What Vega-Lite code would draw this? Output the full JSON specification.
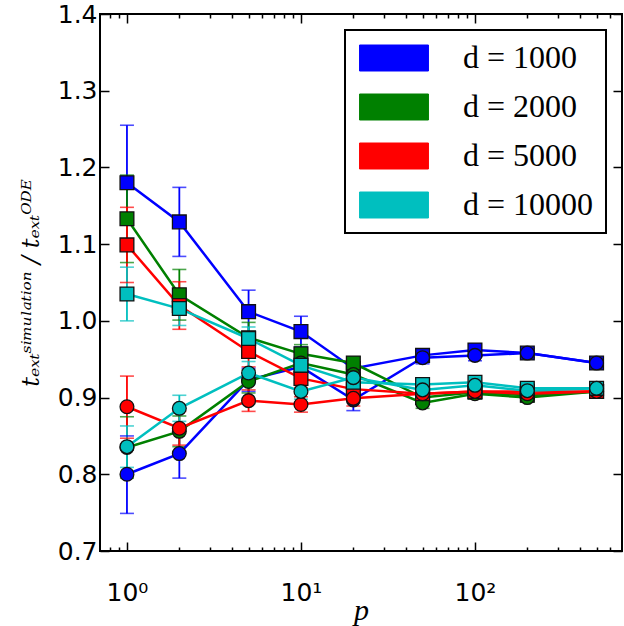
{
  "$schema": "https://vega.github.io/schema/vega-lite/v6.json",
  "width": 522,
  "height": 537,
  "autosize": {"type": "none"},
  "padding": {"left": 100, "top": 14, "right": 2, "bottom": 75},
  "background": "white",
  "config": {
    "view": {"stroke": "black", "strokeWidth": 2},
    "font": "DejaVu Sans"
  },
  "data": {
    "values": [
      {"p": 1, "d": 1000, "k": "square", "v": 1.180, "lo": 1.105, "hi": 1.255},
      {"p": 2, "d": 1000, "k": "square", "v": 1.129, "lo": 1.084, "hi": 1.174},
      {"p": 5, "d": 1000, "k": "square", "v": 1.012, "lo": 0.984, "hi": 1.040},
      {"p": 10, "d": 1000, "k": "square", "v": 0.986, "lo": 0.966, "hi": 1.006},
      {"p": 20, "d": 1000, "k": "square", "v": 0.938, "lo": 0.928, "hi": 0.948},
      {"p": 50, "d": 1000, "k": "square", "v": 0.955, "lo": 0.947, "hi": 0.963},
      {"p": 100, "d": 1000, "k": "square", "v": 0.962, "lo": 0.954, "hi": 0.970},
      {"p": 200, "d": 1000, "k": "square", "v": 0.958, "lo": 0.952, "hi": 0.964},
      {"p": 500, "d": 1000, "k": "square", "v": 0.945, "lo": 0.940, "hi": 0.950},
      {"p": 1, "d": 1000, "k": "circle", "v": 0.800, "lo": 0.749, "hi": 0.850},
      {"p": 2, "d": 1000, "k": "circle", "v": 0.827, "lo": 0.795, "hi": 0.859},
      {"p": 5, "d": 1000, "k": "circle", "v": 0.923, "lo": 0.908, "hi": 0.938},
      {"p": 10, "d": 1000, "k": "circle", "v": 0.940, "lo": 0.928, "hi": 0.952},
      {"p": 20, "d": 1000, "k": "circle", "v": 0.897, "lo": 0.883, "hi": 0.911},
      {"p": 50, "d": 1000, "k": "circle", "v": 0.952, "lo": 0.944, "hi": 0.960},
      {"p": 100, "d": 1000, "k": "circle", "v": 0.955, "lo": 0.948, "hi": 0.962},
      {"p": 200, "d": 1000, "k": "circle", "v": 0.958, "lo": 0.952, "hi": 0.964},
      {"p": 500, "d": 1000, "k": "circle", "v": 0.945, "lo": 0.940, "hi": 0.950},
      {"p": 1, "d": 2000, "k": "square", "v": 1.133, "lo": 1.076, "hi": 1.190},
      {"p": 2, "d": 2000, "k": "square", "v": 1.034, "lo": 1.001, "hi": 1.067},
      {"p": 5, "d": 2000, "k": "square", "v": 0.978, "lo": 0.958, "hi": 0.998},
      {"p": 10, "d": 2000, "k": "square", "v": 0.957, "lo": 0.945, "hi": 0.969},
      {"p": 20, "d": 2000, "k": "square", "v": 0.945, "lo": 0.937, "hi": 0.953},
      {"p": 50, "d": 2000, "k": "square", "v": 0.900, "lo": 0.893, "hi": 0.907},
      {"p": 100, "d": 2000, "k": "square", "v": 0.907, "lo": 0.901, "hi": 0.913},
      {"p": 200, "d": 2000, "k": "square", "v": 0.903, "lo": 0.897, "hi": 0.909},
      {"p": 500, "d": 2000, "k": "square", "v": 0.908, "lo": 0.903, "hi": 0.913},
      {"p": 1, "d": 2000, "k": "circle", "v": 0.835, "lo": 0.795, "hi": 0.875},
      {"p": 2, "d": 2000, "k": "circle", "v": 0.856, "lo": 0.836, "hi": 0.876},
      {"p": 5, "d": 2000, "k": "circle", "v": 0.921, "lo": 0.906, "hi": 0.936},
      {"p": 10, "d": 2000, "k": "circle", "v": 0.945, "lo": 0.933, "hi": 0.957},
      {"p": 20, "d": 2000, "k": "circle", "v": 0.930, "lo": 0.920, "hi": 0.940},
      {"p": 50, "d": 2000, "k": "circle", "v": 0.893, "lo": 0.886, "hi": 0.900},
      {"p": 100, "d": 2000, "k": "circle", "v": 0.905, "lo": 0.899, "hi": 0.911},
      {"p": 200, "d": 2000, "k": "circle", "v": 0.900, "lo": 0.894, "hi": 0.906},
      {"p": 500, "d": 2000, "k": "circle", "v": 0.908, "lo": 0.903, "hi": 0.913},
      {"p": 1, "d": 5000, "k": "square", "v": 1.099, "lo": 1.050, "hi": 1.148},
      {"p": 2, "d": 5000, "k": "square", "v": 1.020, "lo": 0.989, "hi": 1.051},
      {"p": 5, "d": 5000, "k": "square", "v": 0.960, "lo": 0.940, "hi": 0.980},
      {"p": 10, "d": 5000, "k": "square", "v": 0.925, "lo": 0.913, "hi": 0.937},
      {"p": 20, "d": 5000, "k": "square", "v": 0.911, "lo": 0.901, "hi": 0.921},
      {"p": 50, "d": 5000, "k": "square", "v": 0.905, "lo": 0.898, "hi": 0.912},
      {"p": 100, "d": 5000, "k": "square", "v": 0.908, "lo": 0.902, "hi": 0.914},
      {"p": 200, "d": 5000, "k": "square", "v": 0.908, "lo": 0.902, "hi": 0.914},
      {"p": 500, "d": 5000, "k": "square", "v": 0.908, "lo": 0.903, "hi": 0.913},
      {"p": 1, "d": 5000, "k": "circle", "v": 0.888, "lo": 0.847, "hi": 0.928},
      {"p": 2, "d": 5000, "k": "circle", "v": 0.860, "lo": 0.838, "hi": 0.882},
      {"p": 5, "d": 5000, "k": "circle", "v": 0.896, "lo": 0.882, "hi": 0.910},
      {"p": 10, "d": 5000, "k": "circle", "v": 0.891, "lo": 0.881, "hi": 0.901},
      {"p": 20, "d": 5000, "k": "circle", "v": 0.899, "lo": 0.889, "hi": 0.909},
      {"p": 50, "d": 5000, "k": "circle", "v": 0.905, "lo": 0.898, "hi": 0.912},
      {"p": 100, "d": 5000, "k": "circle", "v": 0.908, "lo": 0.902, "hi": 0.914},
      {"p": 200, "d": 5000, "k": "circle", "v": 0.905, "lo": 0.899, "hi": 0.911},
      {"p": 500, "d": 5000, "k": "circle", "v": 0.908, "lo": 0.903, "hi": 0.913},
      {"p": 1, "d": 10000, "k": "square", "v": 1.035, "lo": 1.000, "hi": 1.070},
      {"p": 2, "d": 10000, "k": "square", "v": 1.016, "lo": 0.994, "hi": 1.038},
      {"p": 5, "d": 10000, "k": "square", "v": 0.977, "lo": 0.962, "hi": 0.992},
      {"p": 10, "d": 10000, "k": "square", "v": 0.942, "lo": 0.930, "hi": 0.954},
      {"p": 20, "d": 10000, "k": "square", "v": 0.920, "lo": 0.910, "hi": 0.930},
      {"p": 50, "d": 10000, "k": "square", "v": 0.917, "lo": 0.910, "hi": 0.924},
      {"p": 100, "d": 10000, "k": "square", "v": 0.920, "lo": 0.914, "hi": 0.926},
      {"p": 200, "d": 10000, "k": "square", "v": 0.912, "lo": 0.906, "hi": 0.918},
      {"p": 500, "d": 10000, "k": "square", "v": 0.912, "lo": 0.907, "hi": 0.917},
      {"p": 1, "d": 10000, "k": "circle", "v": 0.836, "lo": 0.809, "hi": 0.863},
      {"p": 2, "d": 10000, "k": "circle", "v": 0.886, "lo": 0.869, "hi": 0.903},
      {"p": 5, "d": 10000, "k": "circle", "v": 0.932, "lo": 0.917, "hi": 0.947},
      {"p": 10, "d": 10000, "k": "circle", "v": 0.908, "lo": 0.898, "hi": 0.918},
      {"p": 20, "d": 10000, "k": "circle", "v": 0.926, "lo": 0.918, "hi": 0.934},
      {"p": 50, "d": 10000, "k": "circle", "v": 0.910, "lo": 0.903, "hi": 0.917},
      {"p": 100, "d": 10000, "k": "circle", "v": 0.916, "lo": 0.910, "hi": 0.922},
      {"p": 200, "d": 10000, "k": "circle", "v": 0.909, "lo": 0.903, "hi": 0.915},
      {"p": 500, "d": 10000, "k": "circle", "v": 0.912, "lo": 0.907, "hi": 0.917}
    ]
  },
  "encoding": {
    "color": {
      "field": "d",
      "type": "nominal",
      "scale": {
        "domain": [1000, 2000, 5000, 10000],
        "range": ["#0000ff", "#008000", "#ff0000", "#00bfbf"]
      },
      "legend": {
        "title": null,
        "orient": "top-right",
        "offset": 16,
        "padding": 12,
        "fillColor": "white",
        "strokeColor": "black",
        "symbolType": "M-2.65,-1H2.65V1H-2.65Z",
        "symbolSize": 676,
        "symbolOffset": 21,
        "symbolOpacity": 1,
        "symbolStrokeWidth": 1,
        "labelOffset": 53,
        "labelFont": "Liberation Serif",
        "labelFontSize": 32,
        "labelColor": "black",
        "labelLimit": 400,
        "labelExpr": "'d = ' + datum.label",
        "rowPadding": 17,
        "encode": {
          "legend": {"update": {"stroke": {"value": "black"}, "strokeWidth": {"value": 2}}},
          "symbols": {"update": {"fill": {"scale": "color", "field": "value"}, "stroke": {"scale": "color", "field": "value"}}}
        }
      }
    }
  },
  "layer": [
    {
      "mark": {"type": "rule", "strokeWidth": 1.8},
      "encoding": {
        "x": {
          "field": "p",
          "type": "quantitative",
          "scale": {"type": "log", "domain": [0.7, 700], "nice": false},
          "axis": {
            "orient": "bottom",
            "values": [0.8, 0.9, 1, 2, 3, 4, 5, 6, 7, 8, 9, 10, 20, 30, 40, 50, 60, 70, 80, 90, 100, 200, 300, 400, 500, 600],
            "labelExpr": "datum.value == 1 ? '10⁰' : datum.value == 10 ? '10¹' : datum.value == 100 ? '10²' : ''",
            "labelFont": "DejaVu Sans",
            "labelFontSize": 25,
            "labelColor": "black",
            "labelPadding": 38,
            "labelFlush": false,
            "labelOverlap": false,
            "domain": false,
            "grid": false,
            "tickColor": "black",
            "tickWidth": 1.5,
            "tickSize": {"condition": {"test": "datum.value == 1 || datum.value == 10 || datum.value == 100", "value": -9}, "value": -4},
            "title": "p",
            "titleFont": "Liberation Serif",
            "titleFontStyle": "italic",
            "titleFontWeight": "normal",
            "titleFontSize": 30,
            "titleColor": "black",
            "titlePadding": -15
          }
        },
        "y": {
          "field": "lo",
          "type": "quantitative",
          "scale": {"domain": [0.7, 1.4], "nice": false, "zero": false},
          "axis": {
            "orient": "left",
            "values": [0.7, 0.8, 0.9, 1.0, 1.1, 1.2, 1.3, 1.4],
            "format": ".1f",
            "labelFont": "DejaVu Sans",
            "labelFontSize": 25,
            "labelColor": "black",
            "labelPadding": 12,
            "domain": false,
            "grid": false,
            "tickColor": "black",
            "tickWidth": 1.5,
            "tickSize": -9,
            "title": "tₑₓₜˢⁱᵐᵘˡᵃᵗⁱᵒⁿ / tₑₓₜᴼᴰᴱ",
            "titleFont": "DejaVu Serif",
            "titleFontStyle": "italic",
            "titleFontWeight": "normal",
            "titleFontSize": 24,
            "titleColor": "black",
            "titlePadding": 14
          }
        },
        "y2": {"field": "hi"}
      }
    },
    {
      "mark": {"type": "tick", "orient": "horizontal", "size": 14, "thickness": 1.6},
      "encoding": {
        "x": {
          "field": "p",
          "type": "quantitative",
          "scale": {"type": "log", "domain": [0.7, 700], "nice": false},
          "axis": {
            "orient": "top",
            "values": [0.8, 0.9, 1, 2, 3, 4, 5, 6, 7, 8, 9, 10, 20, 30, 40, 50, 60, 70, 80, 90, 100, 200, 300, 400, 500, 600],
            "labels": false,
            "domain": false,
            "grid": false,
            "tickColor": "black",
            "tickWidth": 1.5,
            "tickSize": {"condition": {"test": "datum.value == 1 || datum.value == 10 || datum.value == 100", "value": -9}, "value": -4},
            "title": null
          }
        },
        "y": {
          "field": "lo",
          "type": "quantitative",
          "scale": {"domain": [0.7, 1.4], "nice": false, "zero": false},
          "axis": {
            "orient": "right",
            "values": [0.7, 0.8, 0.9, 1.0, 1.1, 1.2, 1.3, 1.4],
            "labels": false,
            "domain": false,
            "grid": false,
            "tickColor": "black",
            "tickWidth": 1.5,
            "tickSize": -9,
            "title": null
          }
        }
      }
    },
    {
      "mark": {"type": "tick", "orient": "horizontal", "size": 14, "thickness": 1.6},
      "encoding": {
        "x": {"field": "p", "type": "quantitative", "scale": {"type": "log", "domain": [0.7, 700], "nice": false}, "axis": null},
        "y": {"field": "hi", "type": "quantitative", "scale": {"domain": [0.7, 1.4], "nice": false, "zero": false}, "axis": null}
      }
    },
    {
      "mark": {"type": "line", "strokeWidth": 2.5},
      "encoding": {
        "x": {"field": "p", "type": "quantitative", "scale": {"type": "log", "domain": [0.7, 700], "nice": false}, "axis": null},
        "y": {"field": "v", "type": "quantitative", "scale": {"domain": [0.7, 1.4], "nice": false, "zero": false}, "axis": null},
        "detail": {"field": "k", "type": "nominal"}
      }
    },
    {
      "mark": {"type": "point", "filled": true, "opacity": 1, "size": 190, "stroke": "#111111", "strokeWidth": 1.3},
      "encoding": {
        "x": {"field": "p", "type": "quantitative", "scale": {"type": "log", "domain": [0.7, 700], "nice": false}, "axis": null},
        "y": {"field": "v", "type": "quantitative", "scale": {"domain": [0.7, 1.4], "nice": false, "zero": false}, "axis": null},
        "shape": {
          "field": "k",
          "type": "nominal",
          "scale": {"domain": ["square", "circle"], "range": ["square", "circle"]},
          "legend": null
        }
      }
    }
  ],
  "resolve": {"axis": {"x": "independent", "y": "independent"}}
}
